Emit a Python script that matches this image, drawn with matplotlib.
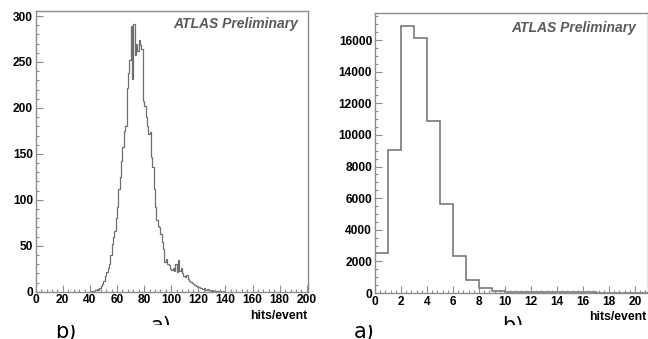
import numpy as np
import matplotlib
matplotlib.use("Agg")
import matplotlib.pyplot as plt
from matplotlib.patches import Rectangle
from matplotlib.ticker import MultipleLocator

# Left panel: hits per event, 1-wide bins from 40 to 140
left_edges_start = 40
left_counts = [
    0, 1, 0, 1, 2, 3, 2, 4, 6, 8,            # 40-49
    12, 17, 21, 26, 30, 40, 52, 60, 66, 80,  # 50-59
    92, 112, 125, 142, 158, 175, 180, 222, 238, 252,  # 60-69
    289, 232, 291, 258, 270, 262, 274, 268, 264, 208,  # 70-79
    202, 190, 180, 172, 174, 147, 136, 112, 92, 78,    # 80-89
    71, 70, 63, 54, 46, 32, 36, 30, 29, 25,            # 90-99
    24, 26, 22, 30, 21, 34, 22, 26, 20, 17,            # 100-109
    16, 18, 14, 12, 11, 9, 8, 7, 6, 5,                 # 110-119
    5, 4, 4, 3, 4, 2, 3, 2, 2, 1,                      # 120-129
    2, 1, 0, 1, 1, 0, 1, 0, 1, 0,                      # 130-139
]

# Right panel: hits per event, 1-wide bins from 0 to 21
right_counts = [2550, 9050, 16900, 16100, 10850, 5600, 2350, 800, 290, 150,
                75, 65, 55, 48, 42, 37, 33, 29, 26, 23, 20]

left_xticks = list(range(0, 201, 20))
left_yticks = list(range(0, 301, 50))
right_xticks = list(range(0, 21, 2))
right_yticks = list(range(0, 16001, 2000))

plt.rcParams['font.family'] = ['Liberation Sans', 'DejaVu Sans']

W, H = 648, 339
fig = plt.figure(figsize=(W / 100, H / 100), dpi=100)
fig.patch.set_facecolor('white')

frame_col = '#8c8c8c'
hist_col = '#6e6e6e'
label_kw = dict(fontsize=8.8, fontweight='bold', color='black')


def style_axes(ax):
    for s in ax.spines.values():
        s.set_color(frame_col)
        s.set_linewidth(1.0)
    ax.tick_params(which='both', direction='in', top=False, right=False,
                   color=frame_col, width=0.8, labelsize=8.6, pad=2)
    ax.tick_params(which='major', length=5)
    ax.tick_params(which='minor', length=2.5)
    for lab in ax.get_xticklabels() + ax.get_yticklabels():
        lab.set_fontweight('bold')


# ---- left panel ----
ax1 = fig.add_axes([35.7 / W, 47.3 / H, 271.8 / W, 280.7 / H])
edges1 = np.arange(left_edges_start, left_edges_start + len(left_counts) + 1)
ax1.stairs(left_counts, edges1, color=hist_col, linewidth=0.9)
ax1.set_xlim(0, 200.5)
ax1.set_ylim(0, 305.5)
ax1.set_xticks(left_xticks)
ax1.set_yticks(left_yticks)
ax1.xaxis.set_minor_locator(MultipleLocator(4))
ax1.yaxis.set_minor_locator(MultipleLocator(10))
style_axes(ax1)
ax1.text(0.965, 0.955, 'ATLAS Preliminary', transform=ax1.transAxes,
         ha='right', va='center', fontsize=10, fontweight='bold',
         fontstyle='italic', color='#5a5a5a')
ax1.text(1.0, -0.085, 'hits/event', transform=ax1.transAxes, ha='right',
         va='center', **label_kw)

# ---- right panel ----
ax2 = fig.add_axes([375 / W, 46 / H, 273 / W, 280.3 / H])
edges2 = np.arange(0, len(right_counts) + 1)
ax2.stairs(right_counts, edges2, color=hist_col, linewidth=1.1)
ax2.set_xlim(0, 21.0)
ax2.set_ylim(0, 17730)
ax2.set_xticks(right_xticks)
ax2.set_yticks(right_yticks)
ax2.xaxis.set_minor_locator(MultipleLocator(0.4))
ax2.yaxis.set_minor_locator(MultipleLocator(500))
style_axes(ax2)
ax2.text(0.955, 0.945, 'ATLAS Preliminary', transform=ax2.transAxes,
         ha='right', va='center', fontsize=10, fontweight='bold',
         fontstyle='italic', color='#5a5a5a')
ax2.text(0.995, -0.085, 'hits/event', transform=ax2.transAxes, ha='right',
         va='center', **label_kw)

# ---- panel captions along the bottom, partly masked ----
def caption(x, y, s, clip_y0, clip_y1):
    t = fig.text(x / W, 1 - y / H, s, fontsize=15, color='black',
                 ha='left', va='baseline', family='DejaVu Sans')
    r = Rectangle((0, 1 - clip_y1 / H), 1, (clip_y1 - clip_y0) / H,
                  transform=fig.transFigure, visible=False)
    fig.add_artist(r)
    t.set_clip_path(r)
    return t

caption(55, 338, 'b)', 325, 339)
caption(151, 332, 'a)', 316, 325)
caption(354, 338, 'a)', 325, 339)
caption(502, 332, 'b)', 316, 325)

fig.savefig('out.png', dpi=100, facecolor='white')
